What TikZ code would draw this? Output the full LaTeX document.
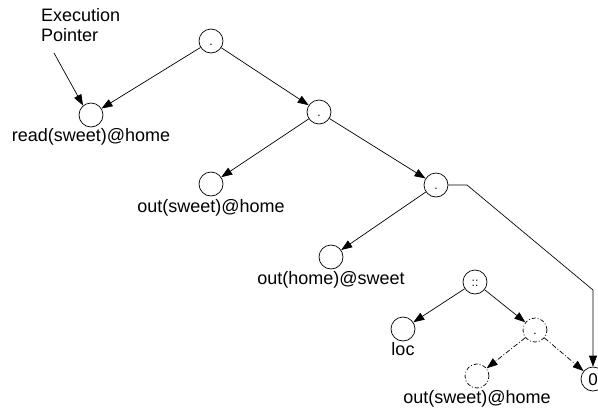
\documentclass[tikz,border=0pt]{standalone}
\usepackage{fontspec}
\setmainfont{Liberation Sans}
\usetikzlibrary{arrows.meta}

\tikzset{
  cell/.style={draw,circle,minimum size=24pt,inner sep=0pt,line width=.7pt,
    font=\fontsize{12}{12}\selectfont,text height=9.5pt,text depth=0pt},
  ghost/.style={cell,dash pattern=on 4pt off 2pt on 1pt off 2pt},
  arr/.style={line width=.7pt,-{Triangle[length=11pt,width=8pt]}},
  darr/.style={arr,dash pattern=on 5pt off 2pt on 1pt off 2pt},
  tag/.style={font=\fontsize{18}{20}\selectfont,inner sep=0pt},
}

\begin{document}
\begin{tikzpicture}[x=1pt,y=-1pt]%[y=1cm,x=1cm]
	\useasboundingbox (0,0) rectangle (598,413);
	\node[cell] (root) at (211,41) {.};
	\node[cell,label={[tag,label distance=1pt]below:read(sweet)@home}] (read) at (91,115) {};
	\node[cell] (seq) at (319,112) {.};
	\node[cell,label={[tag,label distance=3pt]below:out(sweet)@home}] (outa) at (211,184) {};
	\node[cell] (par) at (436,185) {.};
	\node[cell,label={[tag,label distance=2pt]below:out(home)@sweet}] (outb) at (331,257) {};
	\node[cell] (cons) at (475,282) {::};
	\node[cell,label={[tag,label distance=1pt]below:loc}] (loc) at (403,329) {};
	\node[ghost] (gdot) at (535,330) {.};
	\node[ghost,label={[tag,label distance=2pt]below:out(sweet)@home}] (gout) at (477,376) {};
	\node[cell,font=\fontsize{17}{17}\selectfont,text height=12pt] (nil) at (593,379) {0};
	\node[tag,align=left,anchor=north west] (ptr) at (41,8) {Execution\\Pointer};
	%% edges
	\foreach \a/\b in {root/read,root/seq,seq/outa,seq/par,par/outb,cons/loc,cons/gdot}
	\draw[arr] (\a) -- (\b);
	\foreach \b in {gout,nil}
	\draw[darr] (gdot) -- (\b);
	\coordinate (bendA) at (467,185);
	\coordinate (bendB) at (593,290);
	\draw[arr] (par.east) -- (bendA) -- (bendB) -- (nil.north);
	\coordinate (ptrtail) at (54,53);
	\draw[arr] (ptrtail) -- (read.130);
\end{tikzpicture}
\end{document}
